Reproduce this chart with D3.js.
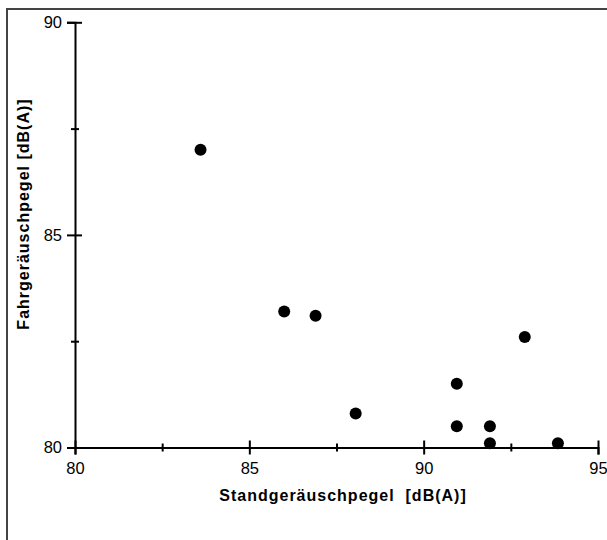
<!DOCTYPE html>
<html>
<head>
<meta charset="utf-8">
<script src="https://d3js.org/d3.v7.min.js"></script>
<style>
  body { margin: 0; background: #fff; }
  text { font-family: "Liberation Sans", Arial, sans-serif; }
</style>
</head>
<body>
<div id="chart"></div>
<script>
// values
const standPegel = [83.6, 86.0, 86.9, 88.05, 90.95, 90.95, 91.9, 91.9, 92.9, 93.85];
const fahrPegel  = [87.0, 83.2, 83.1, 80.8, 81.5, 80.5, 80.5, 80.1, 82.6, 80.1];
const xMajor = [80, 85, 90, 95];
const xMinor = [82.5, 87.5, 92.5];
const yMajor = [80, 85, 90];
const yMinor = [82.5, 87.5];

const width = 607, height = 540;

const svg = d3.select("#chart")
    .append("svg")
    .attr("width", width)
    .attr("height", height);

// outer frame (runs off the right/bottom edge)
svg.append("rect")
    .attr("x", 7).attr("y", 9)
    .attr("width", 620).attr("height", 560)
    .attr("fill", "none")
    .attr("stroke", "#444")
    .attr("stroke-width", 2);

const x = d3.scaleLinear().domain([80, 95]).range([75, 598]);
const y = d3.scaleLinear().domain([80, 90]).range([447.5, 22.3]);

// X axis
const gx = svg.append("g")
    .attr("transform", `translate(0, ${y(80)})`)
    .call(d3.axisBottom(x).tickValues(xMajor).tickSize(7).tickPadding(8).tickFormat(d3.format("d")));
gx.selectAll(".tick line").attr("y1", -7).attr("y2", 7);

const gxm = svg.append("g")
    .attr("transform", `translate(0, ${y(80)})`)
    .call(d3.axisBottom(x).tickValues(xMinor).tickSize(4).tickFormat(""));
gxm.selectAll(".tick line").attr("y1", -4).attr("y2", 4);
gxm.select(".domain").remove();

// Y axis
const gy = svg.append("g")
    .attr("transform", `translate(${x(80)}, 0)`)
    .call(d3.axisLeft(y).tickValues(yMajor).tickSize(8).tickPadding(5).tickFormat(d3.format("d")));
gy.selectAll(".tick line").attr("x1", -8).attr("x2", 7);

const gym = svg.append("g")
    .attr("transform", `translate(${x(80)}, 0)`)
    .call(d3.axisLeft(y).tickValues(yMinor).tickSize(4).tickFormat(""));
gym.selectAll(".tick line").attr("x1", -4).attr("x2", 4);
gym.select(".domain").remove();

svg.selectAll(".domain, .tick line")
    .attr("stroke", "#000")
    .attr("stroke-width", 2);

svg.selectAll(".tick text")
    .attr("fill", "#000")
    .style("font-size", "16.5px")
    .style("font-family", "'Liberation Sans', Arial, sans-serif");

// axis titles
svg.append("text")
    .attr("x", 343)
    .attr("y", 501)
    .attr("text-anchor", "middle")
    .style("font-size", "16px")
    .style("font-weight", "bold")
    .style("letter-spacing", "1px")
    .attr("xml:space", "preserve")
    .text("Standgeräuschpegel  [dB(A)]");

svg.append("text")
    .attr("transform", "translate(29, 214) rotate(-90)")
    .attr("text-anchor", "middle")
    .style("font-size", "16px")
    .style("font-weight", "bold")
    .style("letter-spacing", "1px")
    .text("Fahrgeräuschpegel [dB(A)]");

// points
svg.selectAll("circle.pt")
    .data(standPegel.map((v, i) => [v, fahrPegel[i]]))
    .join("circle")
    .attr("class", "pt")
    .attr("cx", d => x(d[0]))
    .attr("cy", d => y(d[1]))
    .attr("r", 6)
    .attr("fill", "#000");
</script>
</body>
</html>
